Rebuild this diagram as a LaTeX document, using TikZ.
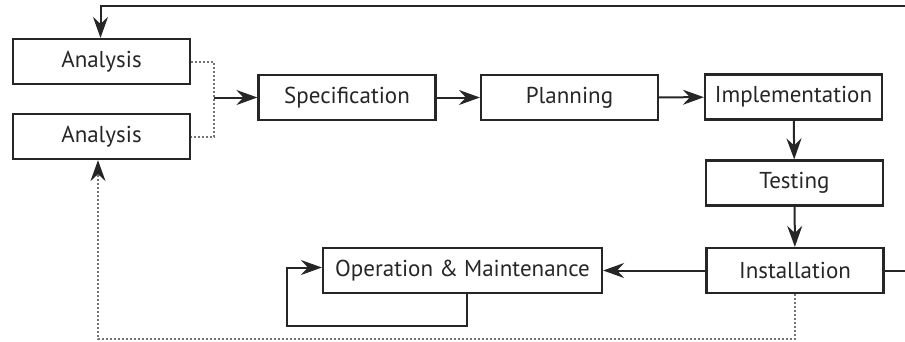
\documentclass[tikz,border=0pt]{standalone}
\usepackage{fontspec}
\setmainfont{PT Sans}
\usetikzlibrary{arrows.meta,positioning}

\begin{document}
\begin{tikzpicture}[x=1pt,y=-1pt,
    stage/.style={rectangle,draw=black!85,line width=2.2pt,minimum width=177pt,minimum height=45pt,
      inner sep=0pt,text=black!85,font=\fontsize{23}{27}\selectfont},
    flow/.style={line width=2pt,draw=black!85,-{Stealth[length=21pt,width=15pt,inset=7pt,color=black!85]}},
    back/.style={line width=2pt,draw=black!85},
    dots/.style={line width=2pt,draw=black!55,dotted},
   ]
    \useasboundingbox (0,0) rectangle (905,341);
    \clip (0,0) rectangle (905,341);

    \node (ana1) [stage] at (101.5,61.5)  {Analysis};
    \node (ana2) [stage] at (101.5,136.5) {Analysis};
    \node (spec) [stage] at (347,97.5)    {Specification};
    \node (plan) [stage] at (569.5,97.5)  {Planning};
    \node (impl) [stage] at (793.5,97)    {Implementation};
    \node (test) [stage] at (794.5,183)   {Testing};
    \node (inst) [stage] at (795,270.5)   {Installation};
    \node (oper) [stage,minimum width=279pt] at (462.5,270.5) {Operation \& Maintenance};

    \coordinate (join) at (214,97.5);
    \coordinate (topright) at (915,6);

    % main flow
    \draw[dots] (ana1.east) -| (join) |- (ana2.east);
    \draw[flow] (join) -- (spec);
    \draw[flow] (spec) -- (plan);
    \draw[flow] (plan) -- (impl);
    \draw[flow] (impl) -- (test);
    \draw[flow] (test) -- (inst);
    \draw[flow] (inst) -- (oper);

    % loops
    \draw[flow] (oper.south) ++(4.5,0) |- (287,326) |- ([yshift=3pt]oper.west);
    \draw[back] (inst.east) -| (topright);
    \draw[flow] (topright) -| ([xshift=-1pt]ana1.north);
    \draw[dots,-{Stealth[length=21pt,width=15pt,inset=7pt,color=black!85]}] (inst.south) |- (98,339) -- ([xshift=-3.5pt]ana2.south);
\end{tikzpicture}
\end{document}
